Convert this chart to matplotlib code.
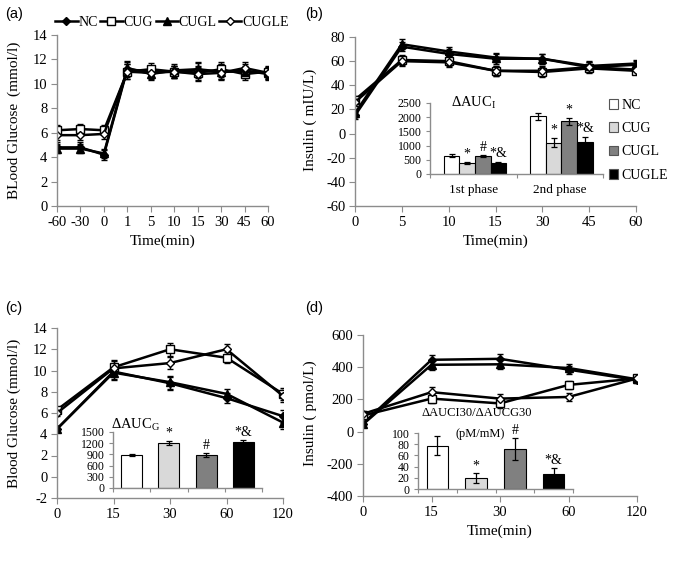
import numpy as np
import matplotlib
matplotlib.use("Agg")
import matplotlib.pyplot as plt
from matplotlib.patches import Patch
from matplotlib.lines import Line2D

plt.rcParams['font.family'] = ['Liberation Serif', 'DejaVu Serif']
plt.rcParams['mathtext.fontset'] = 'custom'
plt.rcParams['mathtext.rm'] = 'Liberation Serif'
plt.rcParams['axes.unicode_minus'] = False

# ===================== data =====================
groups = ['NC', 'CUG', 'CUGL', 'CUGLE']

# (a) blood glucose, clamp
a_time = ['-60', '-30', '0', '1', '5', '10', '15', '30', '45', '60']
a_NC = [4.8, 4.8, 4.2, 11.2, 11.0, 11.0, 11.1, 11.0, 11.1, 10.8]
a_CUG = [6.2, 6.3, 6.2, 11.0, 11.2, 11.0, 10.9, 11.2, 10.8, 11.0]
a_CUGL = [4.7, 4.7, 4.3, 11.3, 10.8, 11.1, 11.2, 11.0, 11.0, 10.9]
a_CUGLE = [5.8, 5.8, 5.9, 11.0, 10.9, 11.0, 10.8, 10.9, 11.3, 10.9]
a_err = [0.4, 0.4, 0.4, 0.6, 0.5, 0.5, 0.6, 0.6, 0.5, 0.5]

# (b) insulin, clamp
b_time = ['0', '5', '10', '15', '30', '45', '60']
b_NC = [15, 72, 66, 62, 62, 55, 57]
b_CUG = [28, 61, 60, 52, 51, 54, 52]
b_CUGL = [17, 74, 68, 63, 62, 56, 58]
b_CUGLE = [26, 60, 59, 52, 52, 55, 53]
b_err = [3, 4, 4, 4, 4, 4, 3]

# (b) inset, delta AUC insulin
b_phase = ['1st phase', '2nd phase']
b_auc = {'NC': [650, 2030], 'CUG': [380, 1100], 'CUGL': [620, 1850], 'CUGLE': [400, 1130]}
b_auc_err = {'NC': [40, 130], 'CUG': [40, 150], 'CUGL': [35, 130], 'CUGLE': [20, 170]}
b_auc_mark = {'NC': ['', ''], 'CUG': ['*', '*'], 'CUGL': ['#', '*'], 'CUGLE': ['*&', '*&']}

# (c) blood glucose, OGTT
c_time = ['0', '15', '30', '60', '120']
c_NC = [4.5, 9.9, 8.8, 7.4, 5.7]
c_CUG = [6.3, 10.3, 12.0, 11.2, 7.8]
c_CUGL = [4.5, 9.8, 8.9, 7.8, 5.1]
c_CUGLE = [6.0, 10.2, 10.7, 12.0, 7.6]
c_err = [0.3, 0.7, 0.6, 0.5, 0.6]

c_auc = [880, 1200, 880, 1230]
c_auc_err = [30, 60, 50, 60]
c_auc_mark = ['', '*', '#', '*&']

# (d) insulin, OGTT
d_time = ['0', '15', '30', '60', '120']
d_NC = [50, 446, 452, 385, 320]
d_CUG = [100, 205, 175, 290, 330]
d_CUGL = [45, 415, 418, 395, 325]
d_CUGLE = [110, 245, 205, 215, 330]
d_err = [15, 30, 30, 25, 20]

d_ratio = [77, 20, 71, 27]
d_ratio_err = [17, 9, 20, 11]
d_ratio_mark = ['', '*', '#', '*&']

# ===================== styles =====================
W, H = 680, 568
fig = plt.figure(figsize=(W / 100, H / 100), dpi=100)

line_style = {
    'NC': dict(marker='D', mfc='black', ms=4.5),
    'CUG': dict(marker='s', mfc='white', ms=5.5),
    'CUGL': dict(marker='^', mfc='black', ms=6),
    'CUGLE': dict(marker='D', mfc='white', ms=4.5),
}
bar_color = {'NC': 'white', 'CUG': '#d9d9d9', 'CUGL': '#808080', 'CUGLE': 'black'}
spine_gray = '#8c8c8c'


def px_axes(l, t, r, b):
    return fig.add_axes([l / W, 1 - b / H, (r - l) / W, (b - t) / H])


def style_axes(ax, fs=10.5):
    for s in ['top', 'right']:
        ax.spines[s].set_visible(False)
    for s in ['left', 'bottom']:
        ax.spines[s].set_color(spine_gray)
        ax.spines[s].set_linewidth(1.0)
    ax.tick_params(direction='out', color=spine_gray, length=4, labelsize=fs, pad=3)
    ax.set_facecolor('none')


def line_panel(ax, times, series, err):
    x = np.arange(len(times))
    for g in groups:
        ax.errorbar(x, series[g], yerr=err, color='black', lw=1.8, mec='black', mew=1.0,
                    capsize=2.5, elinewidth=1.0, capthick=1.0, **line_style[g])
    ax.set_xticks(x)
    ax.set_xticklabels(times)
    ax.set_xlim(0, len(times) - 1)
    style_axes(ax)


# ===================== (a) =====================
ax_a = px_axes(57, 35, 268, 206)
line_panel(ax_a, a_time, dict(NC=a_NC, CUG=a_CUG, CUGL=a_CUGL, CUGLE=a_CUGLE), a_err)
ax_a.set_ylim(0, 14)
ax_a.set_yticks(range(0, 15, 2))
ax_a.set_xlabel('Time(min)', fontsize=11, labelpad=4)
fig.text(14 / W, 1 - 120 / H, 'BLood Glucose\u2009 (mmol/l)', rotation=90, fontsize=11,
         ha='center', va='center')
handles = [Line2D([], [], color='black', lw=1.8, mec='black', **line_style[g]) for g in groups]
fig.legend(handles, groups, loc='center', bbox_to_anchor=(172 / W, 1 - 22 / H), ncol=4,
           frameon=False, fontsize=10, handlelength=1.6, handletextpad=0.05,
           columnspacing=0.2, borderpad=0)
fig.text(5 / W, 1 - 14 / H, '(a)', fontsize=10.5, family='Liberation Sans', va='center')

# ===================== (b) =====================
ax_b = px_axes(355, 37, 636, 206)
line_panel(ax_b, b_time, dict(NC=b_NC, CUG=b_CUG, CUGL=b_CUGL, CUGLE=b_CUGLE), b_err)
ax_b.set_ylim(-60, 80)
ax_b.set_yticks(range(-60, 81, 20))
ax_b.set_xlabel('Time(min)', fontsize=11, labelpad=4)
fig.text(310 / W, 1 - 120 / H, 'Insulin ( mIU/L)', rotation=90, fontsize=11,
         ha='center', va='center')
fig.text(305 / W, 1 - 14 / H, '(b)', fontsize=10.5, family='Liberation Sans', va='center')

# inset (b)
ax_bi = px_axes(430, 103, 603, 174)
style_axes(ax_bi, fs=8.5)
bw = 0.18
for i, g in enumerate(groups):
    xs = np.arange(len(b_phase)) + 0.52 + (i - 1.5) * bw
    ax_bi.bar(xs, b_auc[g], width=bw, color=bar_color[g], edgecolor='black', lw=0.8,
              yerr=b_auc_err[g], capsize=2.5, error_kw=dict(elinewidth=0.9, capthick=0.9))
    for xx, v, e, m in zip(xs, b_auc[g], b_auc_err[g], b_auc_mark[g]):
        if m:
            ax_bi.text(xx, v + e + 60, m, ha='center', va='bottom', fontsize=10)
ax_bi.set_ylim(0, 2500)
ax_bi.set_yticks(range(0, 2501, 500))
ax_bi.set_xlim(0, 2)
ax_bi.set_xticks([0, 1, 2])
ax_bi.set_xticklabels([])
ax_bi.set_xticks([0.5, 1.5], minor=True)
ax_bi.set_xticklabels(b_phase, minor=True, fontsize=9.5)
ax_bi.tick_params(axis='x', which='minor', length=0, pad=7)
ax_bi.tick_params(axis='both', which='major', length=3)
ax_bi.text(0.25, 1.0, r'$\Delta$AUC$_\mathregular{I}$', transform=ax_bi.transAxes,
           fontsize=10.5, ha='center', va='center')
leg_handles = [Patch(facecolor=bar_color[g], edgecolor='#555555', lw=0.8) for g in groups]
ax_bi.legend(leg_handles, groups, loc='upper left', bbox_to_anchor=(1.0, 1.14),
             frameon=False, fontsize=10, handlelength=0.7, handleheight=0.7,
             handletextpad=0.2, labelspacing=0.75, borderaxespad=0)

# ===================== (c) =====================
ax_c = px_axes(57, 328, 283, 498)
line_panel(ax_c, c_time, dict(NC=c_NC, CUG=c_CUG, CUGL=c_CUGL, CUGLE=c_CUGLE), c_err)
ax_c.set_ylim(-2, 14)
ax_c.set_yticks(range(-2, 15, 2))
fig.text(14 / W, 1 - 413 / H, 'Blood Glucose (mmol/l)', rotation=90, fontsize=11,
         ha='center', va='center')
fig.text(5 / W, 1 - 308 / H, '(c)', fontsize=10.5, family='Liberation Sans', va='center')

# inset (c)
ax_ci = px_axes(113, 432, 262, 488)
style_axes(ax_ci, fs=8.5)
xc = np.arange(len(groups)) + 0.5
ax_ci.bar(xc, c_auc, width=0.56, color=[bar_color[g] for g in groups], edgecolor='black',
          lw=0.8, yerr=c_auc_err, capsize=2.5, error_kw=dict(elinewidth=0.9, capthick=0.9))
for xx, v, e, m in zip(xc, c_auc, c_auc_err, c_auc_mark):
    if m:
        ax_ci.text(xx, v + e + 30, m, ha='center', va='bottom', fontsize=10)
ax_ci.set_ylim(0, 1500)
ax_ci.set_yticks(range(0, 1501, 300))
ax_ci.set_xlim(0, 4)
ax_ci.set_xticks(range(5))
ax_ci.set_xticklabels([])
ax_ci.tick_params(length=3)
ax_ci.text(0.15, 1.13, r'$\Delta$AUC$_\mathregular{G}$', transform=ax_ci.transAxes,
           fontsize=10.5, ha='center', va='center')

# ===================== (d) =====================
ax_d = px_axes(363, 335, 637, 496)
line_panel(ax_d, d_time, dict(NC=d_NC, CUG=d_CUG, CUGL=d_CUGL, CUGLE=d_CUGLE), d_err)
ax_d.set_ylim(-400, 600)
ax_d.set_yticks(range(-400, 601, 200))
ax_d.set_xlabel('Time(min)', fontsize=11, labelpad=4)
fig.text(310 / W, 1 - 413 / H, 'Insulin ( pmol/L)', rotation=90, fontsize=11,
         ha='center', va='center')
fig.text(305 / W, 1 - 308 / H, '(d)', fontsize=10.5, family='Liberation Sans', va='center')

# inset (d)
ax_di = px_axes(418, 433, 573, 489)
style_axes(ax_di, fs=8.5)
xd = np.arange(len(groups)) + 0.5
ax_di.bar(xd, d_ratio, width=0.55, color=[bar_color[g] for g in groups], edgecolor='black',
          lw=0.8, yerr=d_ratio_err, capsize=2.5, error_kw=dict(elinewidth=0.9, capthick=0.9))
for xx, v, e, m in zip(xd, d_ratio, d_ratio_err, d_ratio_mark):
    if m:
        ax_di.text(xx, v + e + 1, m, ha='center', va='bottom', fontsize=10)
ax_di.set_ylim(0, 100)
ax_di.set_yticks(range(0, 101, 20))
ax_di.set_xlim(0, 4)
ax_di.set_xticks(range(5))
ax_di.set_xticklabels([])
ax_di.tick_params(length=3)
ax_di.text(0.38, 1.36, '\u0394AUCI30/\u0394AUCG30', transform=ax_di.transAxes,
           fontsize=9, ha='center', va='center')
ax_di.text(0.4, 0.99, '(pM/mM)', transform=ax_di.transAxes,
           fontsize=9, ha='center', va='center')

fig.savefig('out.png', dpi=100)
